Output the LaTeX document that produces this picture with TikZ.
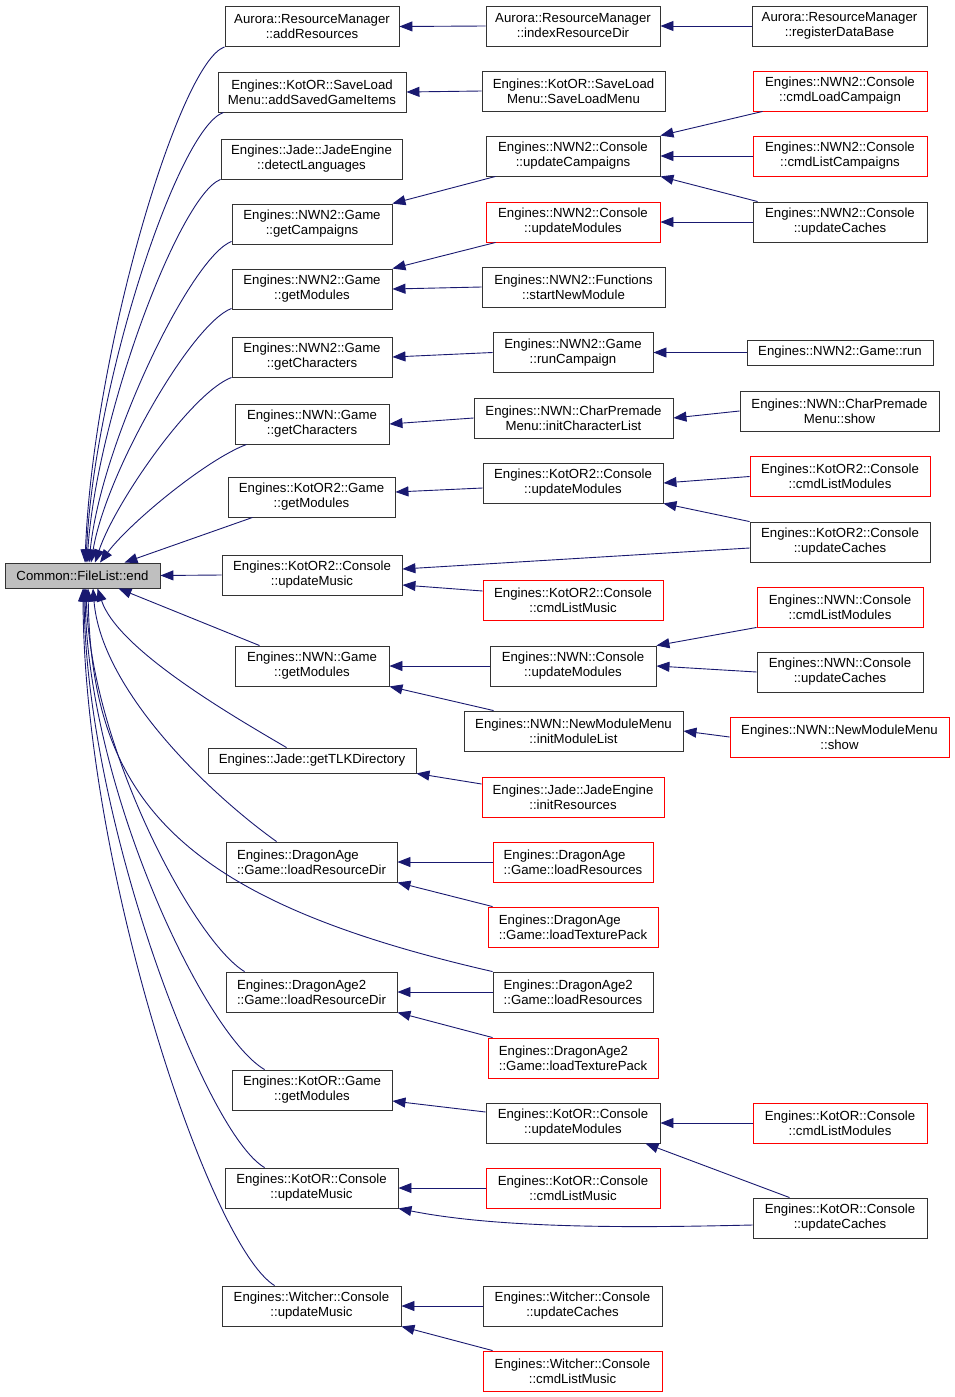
\documentclass[tikz,border=0pt]{standalone}
\usepackage{fontspec}
\setmainfont{Liberation Sans}
\usetikzlibrary{arrows.meta}
\definecolor{edgeblue}{HTML}{191970}
\definecolor{boxgray}{HTML}{BFBFBF}
\newcommand{\dxfont}{\fontsize{13.2pt}{15pt}\selectfont}
\tikzset{fn/.style={draw=black!80,line width=0.9pt,inner sep=0pt,
    minimum height=40pt,align=center,font=\dxfont}}
\tikzset{fnred/.style={fn,draw=red}}
\tikzset{fnroot/.style={fn,fill=boxgray,minimum height=25pt}}
\tikzset{call/.style={edgeblue,line width=0.9pt,{Triangle[length=13pt,width=10pt]}-}}

\begin{document}
\begin{tikzpicture}[x=1pt,y=-1pt]
        \useasboundingbox (0,0) rectangle (955,1397);
        % Root function
        \node[fnroot, minimum width=155pt] (fileEnd) at (82.5,575.5) {Common::FileList::end};
        % Direct callers
        \node[fn, minimum width=174pt] (addRes) at (312,26.5) {Aurora::ResourceManager\\::addResources};
        \node[fn, minimum width=188pt] (addSaved) at (312,92) {Engines::KotOR::SaveLoad\\Menu::addSavedGameItems};
        \node[fn, minimum width=181pt] (detectLang) at (311.5,159) {Engines::Jade::JadeEngine\\::detectLanguages};
        \node[fn, minimum width=160pt] (nwn2Camp) at (312,224) {Engines::NWN2::Game\\::getCampaigns};
        \node[fn, minimum width=160pt] (nwn2Mod) at (312,289) {Engines::NWN2::Game\\::getModules};
        \node[fn, minimum width=160pt] (nwn2Char) at (312,357) {Engines::NWN2::Game\\::getCharacters};
        \node[fn, minimum width=154pt] (nwnChar) at (312,424) {Engines::NWN::Game\\::getCharacters};
        \node[fn, minimum width=167pt] (k2Mod) at (311.5,497) {Engines::KotOR2::Game\\::getModules};
        \node[fn, minimum width=180pt] (k2Music) at (312,575) {Engines::KotOR2::Console\\::updateMusic};
        \node[fn, minimum width=154pt] (nwnMod) at (312,666) {Engines::NWN::Game\\::getModules};
        \node[fn, minimum width=208pt, minimum height=25pt] (tlkDir) at (312,760.5) {Engines::Jade::getTLKDirectory};
        \node[fn, minimum width=171pt, align=left] (daResDir) at (311.5,862) {Engines::DragonAge\\::Game::loadResourceDir};
        \node[fn, minimum width=171pt, align=left] (da2ResDir) at (311.5,992) {Engines::DragonAge2\\::Game::loadResourceDir};
        \node[fn, minimum width=160pt] (kMod) at (312,1090) {Engines::KotOR::Game\\::getModules};
        \node[fn, minimum width=173pt] (kMusic) at (311.5,1188) {Engines::KotOR::Console\\::updateMusic};
        \node[fn, minimum width=179pt] (wMusic) at (311.5,1306) {Engines::Witcher::Console\\::updateMusic};
        % Second level
        \node[fn, minimum width=174pt] (indexRes) at (573,26) {Aurora::ResourceManager\\::indexResourceDir};
        \node[fn, minimum width=183pt] (saveMenu) at (573.5,91) {Engines::KotOR::SaveLoad\\Menu::SaveLoadMenu};
        \node[fn, minimum width=174pt] (n2UpdCamp) at (573,156) {Engines::NWN2::Console\\::updateCampaigns};
        \node[fnred, minimum width=174pt] (n2UpdMod) at (573,222) {Engines::NWN2::Console\\::updateModules};
        \node[fn, minimum width=183pt] (startNew) at (573.5,287) {Engines::NWN2::Functions\\::startNewModule};
        \node[fn, minimum width=160pt] (runCamp) at (573,352.5) {Engines::NWN2::Game\\::runCampaign};
        \node[fn, minimum width=199pt] (initChar) at (573.5,418) {Engines::NWN::CharPremade\\Menu::initCharacterList};
        \node[fn, minimum width=180pt] (k2UpdMod) at (573,483) {Engines::KotOR2::Console\\::updateModules};
        \node[fnred, minimum width=180pt] (k2ListMusic) at (573,600) {Engines::KotOR2::Console\\::cmdListMusic};
        \node[fn, minimum width=166pt] (nwnUpdMod) at (573,666) {Engines::NWN::Console\\::updateModules};
        \node[fn, minimum width=219pt] (initModList) at (573.5,731) {Engines::NWN::NewModuleMenu\\::initModuleList};
        \node[fnred, minimum width=182pt] (jadeInitRes) at (573,797) {Engines::Jade::JadeEngine\\::initResources};
        \node[fnred, minimum width=160pt, align=left] (daLoadRes) at (573,862) {Engines::DragonAge\\::Game::loadResources};
        \node[fnred, minimum width=170pt, align=left] (daTexPack) at (573,927) {Engines::DragonAge\\::Game::loadTexturePack};
        \node[fn, minimum width=160pt, align=left] (da2LoadRes) at (573,992) {Engines::DragonAge2\\::Game::loadResources};
        \node[fnred, minimum width=170pt, align=left] (da2TexPack) at (573,1058) {Engines::DragonAge2\\::Game::loadTexturePack};
        \node[fn, minimum width=174pt] (kUpdMod) at (573,1123) {Engines::KotOR::Console\\::updateModules};
        \node[fnred, minimum width=174pt] (kListMusic) at (573,1188) {Engines::KotOR::Console\\::cmdListMusic};
        \node[fn, minimum width=179pt] (wUpdCaches) at (572.5,1306) {Engines::Witcher::Console\\::updateCaches};
        \node[fnred, minimum width=179pt] (wListMusic) at (572.5,1371) {Engines::Witcher::Console\\::cmdListMusic};
        % Third level
        \node[fn, minimum width=175pt] (regDB) at (839.5,26) {Aurora::ResourceManager\\::registerDataBase};
        \node[fnred, minimum width=174pt] (n2LoadCamp) at (840,91) {Engines::NWN2::Console\\::cmdLoadCampaign};
        \node[fnred, minimum width=174pt] (n2ListCamp) at (840,156) {Engines::NWN2::Console\\::cmdListCampaigns};
        \node[fn, minimum width=174pt] (n2UpdCaches) at (840,222) {Engines::NWN2::Console\\::updateCaches};
        \node[fn, minimum width=186pt, minimum height=25pt] (n2Run) at (840,352.5) {Engines::NWN2::Game::run};
        \node[fn, minimum width=199pt] (charShow) at (839.5,411) {Engines::NWN::CharPremade\\Menu::show};
        \node[fnred, minimum width=180pt] (k2ListMod) at (840,476.5) {Engines::KotOR2::Console\\::cmdListModules};
        \node[fn, minimum width=180pt] (k2UpdCaches) at (840,542) {Engines::KotOR2::Console\\::updateCaches};
        \node[fnred, minimum width=166pt] (nwnListMod) at (840,607) {Engines::NWN::Console\\::cmdListModules};
        \node[fn, minimum width=166pt] (nwnUpdCaches) at (840,672) {Engines::NWN::Console\\::updateCaches};
        \node[fnred, minimum width=219pt] (nmmShow) at (839.5,737) {Engines::NWN::NewModuleMenu\\::show};
        \node[fnred, minimum width=174pt] (kListMod) at (840,1123) {Engines::KotOR::Console\\::cmdListModules};
        \node[fn, minimum width=174pt] (kUpdCaches) at (840,1218) {Engines::KotOR::Console\\::updateCaches};
        % Calls into the root, from above
        \draw[call] ([xshift=2.5pt]fileEnd.north) .. controls +(8,-210) and +(-45,15) .. (addRes.south west);
        \draw[call] ([xshift=3.5pt]fileEnd.north) .. controls +(8,-180) and +(-45,15) .. ([xshift=6pt]addSaved.south west);
        \draw[call] ([xshift=4.5pt]fileEnd.north) .. controls +(10,-150) and +(-40,15) .. (detectLang.south west);
        \draw[call] ([xshift=6.5pt]fileEnd.north) .. controls +(12,-120) and +(-40,15) .. ([yshift=3pt]nwn2Camp.south west);
        \draw[call] ([xshift=8.5pt]fileEnd.north) .. controls +(15,-90) and +(-40,15) .. ([yshift=1pt]nwn2Mod.south west);
        \draw[call] ([xshift=12.5pt]fileEnd.north) .. controls +(20,-60) and +(-40,15) .. (nwn2Char.south west);
        \draw[call] ([xshift=17.5pt]fileEnd.north) .. controls +(30,-40) and +(-40,15) .. ([xshift=12pt]nwnChar.south west);
        \draw[call] ([xshift=42pt]fileEnd.north) -- ([xshift=25pt]k2Mod.south west);
        \draw[call] (fileEnd.east) -- (k2Music.west);
        % Calls into the root, from below
        \draw[call] ([xshift=36pt]fileEnd.south) -- ([xshift=25pt]nwnMod.north west);
        \draw[call] ([xshift=15pt]fileEnd.south) .. controls +(20,60) and +(-60,-35) .. ([xshift=79pt]tlkDir.north west);
        \draw[call] ([xshift=10.5pt]fileEnd.south) .. controls +(8,100) and +(-70,-50) .. ([xshift=51pt]daResDir.north west);
        \draw[call] ([xshift=5.5pt]fileEnd.south) .. controls +(4,212) and (180,900) .. (da2LoadRes.north west);
        \draw[call] ([xshift=3.5pt]fileEnd.south) .. controls +(5,160) and +(-50,-30) .. ([xshift=19pt]da2ResDir.north west);
        \draw[call] ([xshift=2.5pt]fileEnd.south) .. controls +(3,200) and +(-60,-35) .. ([xshift=33pt]kMod.north west);
        \draw[call] ([xshift=1.5pt]fileEnd.south) .. controls +(2,230) and +(-60,-35) .. ([xshift=40pt]kMusic.north west);
        \draw[call] ([xshift=0.5pt]fileEnd.south) .. controls +(1,280) and +(-65,-40) .. ([xshift=53pt]wMusic.north west);
        % Second level to direct callers
        \draw[call] (addRes.east) -- (indexRes.west);
        \draw[call] (addSaved.east) -- (saveMenu.west);
        \draw[call] (nwn2Camp.north east) -- ([xshift=10pt]n2UpdCamp.south west);
        \draw[call] (nwn2Mod.north east) -- ([xshift=10pt]n2UpdMod.south west);
        \draw[call] (nwn2Mod.east) -- (startNew.west);
        \draw[call] (nwn2Char.east) -- (runCamp.west);
        \draw[call] (nwnChar.east) -- (initChar.west);
        \draw[call] ([yshift=5pt]k2Mod.east) -- ([yshift=-5pt]k2UpdMod.west);
        \draw[call] ([yshift=6pt]k2Music.east) -- ([yshift=-6pt]k2UpdCaches.west);
        \draw[call] ([yshift=-10pt]k2Music.east) -- ([yshift=9pt]k2ListMusic.west);
        \draw[call] (nwnMod.east) -- (nwnUpdMod.west);
        \draw[call] (nwnMod.south east) -- ([xshift=30pt]initModList.north west);
        \draw[call] (tlkDir.south east) -- ([yshift=13pt]jadeInitRes.west);
        \draw[call] (daResDir.east) -- (daLoadRes.west);
        \draw[call] (daResDir.south east) -- ([xshift=5pt]daTexPack.north west);
        \draw[call] (da2ResDir.east) -- (da2LoadRes.west);
        \draw[call] (da2ResDir.south east) -- ([xshift=5pt]da2TexPack.north west);
        \draw[call] ([yshift=-11pt]kMod.east) -- ([yshift=11pt]kUpdMod.west);
        \draw[call] (kMusic.east) -- (kListMusic.west);
        \draw[call] (kMusic.south east) .. controls +(110,22) and +(-90,2) .. ([yshift=-7pt]kUpdCaches.west);
        \draw[call] (wMusic.east) -- (wUpdCaches.west);
        \draw[call] (wMusic.south east) -- ([xshift=10pt]wListMusic.north west);
        % Third level to second level
        \draw[call] (indexRes.east) -- (regDB.west);
        \draw[call] (n2UpdCamp.north east) -- ([xshift=10pt]n2LoadCamp.south west);
        \draw[call] (n2UpdCamp.east) -- (n2ListCamp.west);
        \draw[call] (n2UpdCamp.south east) -- ([xshift=5pt]n2UpdCaches.north west);
        \draw[call] (n2UpdMod.east) -- (n2UpdCaches.west);
        \draw[call] (runCamp.east) -- (n2Run.west);
        \draw[call] (initChar.east) -- (charShow.west);
        \draw[call] (k2UpdMod.east) -- (k2ListMod.west);
        \draw[call] (k2UpdMod.south east) -- (k2UpdCaches.north west);
        \draw[call] (nwnUpdMod.north east) -- (nwnListMod.south west);
        \draw[call] (nwnUpdMod.east) -- (nwnUpdCaches.west);
        \draw[call] (initModList.east) -- (nmmShow.west);
        \draw[call] (kUpdMod.east) -- (kListMod.west);
        \draw[call] ([xshift=-15pt]kUpdMod.south east) -- ([xshift=37pt]kUpdCaches.north west);
\end{tikzpicture}
\end{document}
